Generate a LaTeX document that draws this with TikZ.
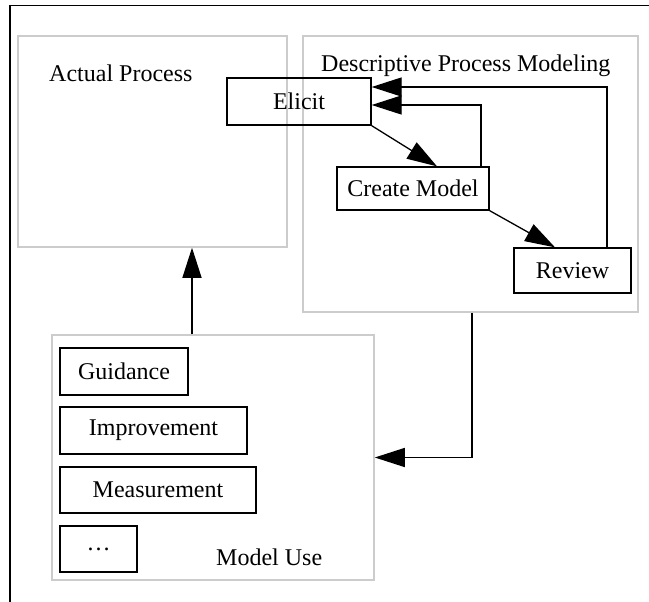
\documentclass[tikz,border=0pt]{standalone}
\usepackage{fontspec}
\setmainfont{Liberation Serif}
\usetikzlibrary{calc,arrows.meta,positioning}

\begin{document}
\begin{tikzpicture}[x=1pt,y=-1pt,
		box/.style={draw,line width=1.3pt,inner sep=0pt,font=\fontsize{24}{28}\selectfont},
		area/.style={draw=gray!40,line width=1.5pt,inner sep=0pt},
		lbl/.style={inner sep=0pt,anchor=base west,font=\fontsize{24}{28}\selectfont},
		arr/.style={line width=1.3pt,-{Triangle[length=30pt,width=19pt]}}]
			\useasboundingbox (0,0) rectangle (649,602);
			\draw[line width=1.2pt] (10,602)--(10,5.5)--(649,5.5);
			\node[area,minimum width=269pt,minimum height=211pt] (A) at (152.5,141.5) {};
			\node[area,minimum width=335pt,minimum height=276pt] (D) at (470.5,174) {};
			\node[area,minimum width=322pt,minimum height=245pt] (U) at (213,457.5) {};
			\node[lbl] (AL) at (49,82) {Actual Process};
			\node[lbl] (DL) at (321,72) {Descriptive Process Modeling};
			\node[lbl] (UL) at (216,565) {Model Use};
			\node[box,minimum width=144pt,minimum height=47pt] (E) at (299,101.5) {Elicit};
			\node[box,minimum width=152pt,minimum height=43pt] (C) at (413,188.5) {Create Model};
			\node[box,minimum width=117pt,minimum height=45pt] (R) at (572.5,270.5) {Review};
			\node[box,minimum width=128pt,minimum height=47pt] (G) at (124,371.5) {Guidance};
			\node[box,minimum width=187pt,minimum height=47pt] (I) at (153.5,430.5) {Improvement};
			\node[box,minimum width=196pt,minimum height=46pt] (M) at (158,490) {Measurement};
			\node[box,minimum width=77pt,minimum height=46pt] (P) at (98.5,549) {\dots};
			\draw[arr] (E.south east)--([xshift=24pt]C.north);
			\draw[arr] (C.south east)--([xshift=-17.5pt]R.north);
			\draw[arr] ([xshift=34.5pt]R.north) |- ([yshift=14.5pt]E.east);
			\draw[arr] ([xshift=68pt]C.north) |- ([yshift=-3.5pt]E.east);
			\draw[arr] ([xshift=1.5pt]D.south) |- (U.east);
			\draw[arr] ([xshift=-21pt]U.north)--([xshift=-21pt]U.north |- A.south);
		\end{tikzpicture}
\end{document}
